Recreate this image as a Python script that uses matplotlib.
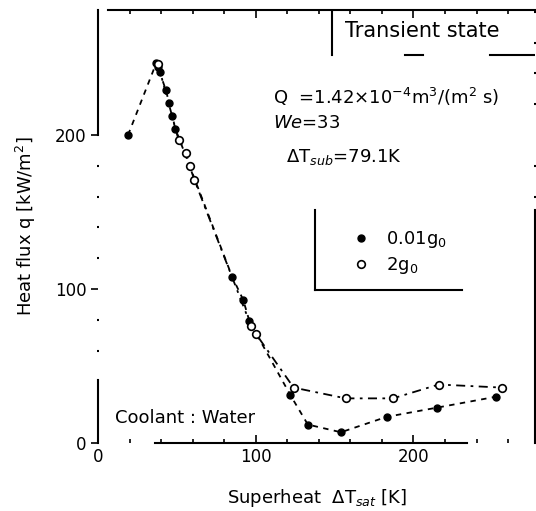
import matplotlib
matplotlib.use('Agg')
import matplotlib.pyplot as plt
from matplotlib.ticker import MultipleLocator
from matplotlib.lines import Line2D

plt.rcParams['font.family'] = ['DejaVu Sans']
plt.rcParams['mathtext.fontset'] = 'dejavusans'

# 0.01 g0 (filled) series
low_g_x = [19, 37, 38, 39, 43, 45, 47, 49, 85, 92, 96, 122, 133, 154, 183, 215, 252]
low_g_y = [200, 247, 244, 241, 229, 221, 212, 204, 108, 93, 79, 31, 12, 7, 17, 23, 30]

# 2 g0 (open) series
high_g_x = [38, 51, 56, 58, 61, 97, 100, 124, 157, 187, 216, 256]
high_g_y = [246, 197, 188, 180, 171, 76, 71, 36, 29, 29, 38, 36]

labels = ['0.01g$_0$', '2g$_0$']

fig = plt.figure(figsize=(5.36, 5.11), dpi=100)
ax = fig.add_axes([0.183, 0.133, 0.815, 0.847])

ax.plot(low_g_x, low_g_y, color='black', lw=1.3, ls=(0, (3, 3)),
        marker='o', ms=5, mfc='black', mec='black')
ax.plot(high_g_x, high_g_y, color='black', lw=1.3, ls=(0, (5, 3, 1.5, 3)),
        marker='o', ms=5.5, mfc='white', mec='black', mew=1.2)

ax.set_xlim(0, 277)
ax.set_ylim(0, 281)

ax.xaxis.set_major_locator(MultipleLocator(100))
ax.xaxis.set_minor_locator(MultipleLocator(20))
ax.yaxis.set_major_locator(MultipleLocator(100))
ax.yaxis.set_minor_locator(MultipleLocator(20))
ax.tick_params(axis='x', which='both', direction='in', top=True, labelsize=12, width=1.2)
ax.tick_params(axis='x', which='major', length=6)
ax.tick_params(axis='x', which='minor', length=3)
ax.tick_params(axis='y', which='major', direction='out', length=5, width=1.2, labelsize=12)
ax.tick_params(axis='y', which='minor', direction='inout', length=2, width=1.5, right=True)

# broken frame, as in the scanned figure
ax.spines['left'].set_bounds(0, 41)
ax.spines['bottom'].set_bounds(36, 234)
ax.spines['top'].set_bounds(6, 277)
ax.spines['right'].set_bounds(0, 151)
for s in ax.spines.values():
    s.set_linewidth(1.5)
ax.plot([0, 0], [200, 281], color='black', lw=1.5, clip_on=False)

ax.set_xlabel('Superheat  $\\Delta$T$_{sat}$ [K]', fontsize=13, labelpad=15)
ax.set_ylabel('Heat flux q [kW/m$^2$]', fontsize=13, labelpad=12)

# "Transient state" box
ax.text(0.565, 0.953, 'Transient state', transform=ax.transAxes,
        fontsize=15, va='center', ha='left')
ax.plot([0.535, 0.535], [0.896, 1.0], transform=ax.transAxes, color='black', lw=1.5)
ax.plot([0.703, 0.744], [0.896, 0.896], transform=ax.transAxes, color='black', lw=1.5)
ax.plot([0.897, 1.0], [0.896, 0.896], transform=ax.transAxes, color='black', lw=1.5)

ax.text(0.40, 0.80, 'Q  =1.42×10$^{-4}$m$^3$/(m$^2$ s)', transform=ax.transAxes,
        fontsize=13, va='center', ha='left')
ax.text(0.40, 0.739, '$\\it{We}$=33', transform=ax.transAxes,
        fontsize=13, va='center', ha='left')
ax.text(0.43, 0.66, '$\\Delta$T$_{sub}$=79.1K', transform=ax.transAxes,
        fontsize=13, va='center', ha='left')
ax.text(0.039, 0.058, 'Coolant : Water', transform=ax.transAxes,
        fontsize=13, va='center', ha='left')

# legend with partial box
handles = [Line2D([], [], ls='none', marker='o', ms=5, mfc='black', mec='black'),
           Line2D([], [], ls='none', marker='o', ms=5.5, mfc='white', mec='black', mew=1.2)]
ax.legend(handles, labels, loc='center left', bbox_to_anchor=(0.54, 0.44),
          frameon=False, fontsize=13, handlelength=1.2, handletextpad=0.8,
          labelspacing=0.3)
ax.plot([0.497, 0.497], [0.353, 0.538], transform=ax.transAxes, color='black', lw=1.5)
ax.plot([0.497, 0.833], [0.353, 0.353], transform=ax.transAxes, color='black', lw=1.5)

fig.savefig('out.png', dpi=100)
